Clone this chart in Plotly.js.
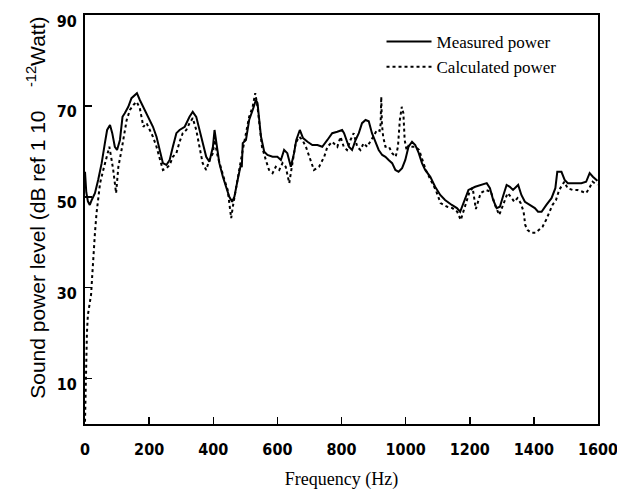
<!DOCTYPE html>
<html>
<head>
<meta charset="utf-8">
<script src="https://cdn.plot.ly/plotly-3.0.1.min.js"></script>
<style>html,body{margin:0;padding:0;background:#fff;}#chart{width:617px;height:493px;}</style>
</head>
<body>
<div id="chart"></div>
<script>
// Measured power (solid)
const measuredHz = [0, 4, 9, 15, 21, 31, 41, 52, 62, 69, 78, 85, 93, 100, 109, 117, 124, 135, 145, 155, 162, 171, 181, 192, 202, 212, 223, 233, 243, 254, 264, 274, 285, 295, 311, 326, 336, 347, 357, 367, 378, 388, 399, 404, 409, 419, 430, 440, 450, 459, 466, 476, 487, 489, 492, 502, 512, 523, 533, 538, 544, 549, 559, 569, 585, 600, 611, 621, 631, 642, 652, 659, 670, 680, 694, 709, 725, 740, 756, 771, 787, 802, 808, 823, 833, 844, 854, 864, 875, 885, 895, 906, 916, 927, 937, 947, 958, 968, 978, 989, 999, 1009, 1020, 1030, 1041, 1051, 1061, 1077, 1092, 1108, 1123, 1144, 1160, 1170, 1180, 1196, 1217, 1237, 1253, 1263, 1273, 1284, 1294, 1305, 1315, 1325, 1335, 1351, 1361, 1372, 1387, 1403, 1413, 1424, 1439, 1455, 1467, 1473, 1486, 1496, 1506, 1527, 1548, 1563, 1574, 1584, 1598];
const measuredDb = [55.5, 51, 49, 48.2, 49.3, 50.8, 53.7, 57.4, 61.8, 64.7, 65.8, 64, 61, 60.3, 62.5, 67.6, 68.4, 69.8, 71.7, 72.4, 72.8, 71.3, 69.8, 68.4, 66.9, 65.4, 63.2, 60.3, 57.4, 57, 58.1, 61, 64, 64.7, 65.4, 67.6, 68.7, 67.6, 64.7, 61.8, 58.8, 57.7, 61, 64.7, 62.5, 57.4, 54.4, 52.2, 50, 48.9, 50, 53.7, 57.4, 56.5, 61.8, 62.5, 66.9, 69.1, 71.3, 70.6, 66.9, 63.2, 59.9, 59.2, 58.8, 58.8, 58.1, 60.3, 59.6, 56.6, 59.6, 62.5, 64.7, 62.9, 62.1, 61.4, 61.4, 61, 62.5, 64, 64.3, 64.7, 64, 61, 60.3, 62.5, 64, 66.2, 66.9, 66.6, 64, 61.8, 60.3, 59.2, 58.8, 58.1, 57.4, 55.9, 55.5, 56.3, 58.1, 61, 62.1, 61.4, 59.6, 57.4, 55.9, 54.4, 52.2, 50.4, 49.3, 48.2, 47.5, 46.7, 48.6, 51.5, 52.2, 52.6, 53, 51.9, 49.3, 47.5, 47.8, 50.4, 52.6, 52.2, 51.5, 52.6, 50.4, 48.9, 48.2, 47.5, 46.7, 46.7, 48.2, 49.7, 51.9, 55.5, 55.5, 53.7, 53, 53, 53, 53.3, 55.2, 54.4, 53.5];

// Calculated power (dotted)
const calculatedHz = [0, 2, 4, 6, 9, 14, 19, 22, 26, 31, 36, 41, 47, 57, 67, 76, 83, 88, 97, 104, 114, 125, 130, 140, 151, 161, 171, 182, 192, 202, 212, 223, 233, 243, 254, 264, 274, 285, 295, 305, 316, 326, 336, 347, 357, 367, 378, 388, 399, 404, 414, 425, 435, 445, 456, 461, 471, 481, 492, 502, 512, 523, 531, 538, 544, 552, 564, 574, 585, 595, 606, 616, 626, 637, 647, 657, 668, 678, 689, 699, 714, 730, 746, 756, 771, 787, 797, 807, 817, 828, 838, 849, 859, 869, 880, 896, 911, 919, 922, 924, 926, 930, 937, 948, 958, 969, 976, 982, 988, 993, 997, 1003, 1010, 1021, 1031, 1042, 1052, 1063, 1078, 1094, 1109, 1130, 1146, 1161, 1172, 1182, 1198, 1209, 1219, 1234, 1250, 1266, 1281, 1292, 1307, 1318, 1328, 1339, 1349, 1359, 1368, 1373, 1380, 1391, 1406, 1417, 1427, 1438, 1448, 1458, 1469, 1479, 1495, 1505, 1521, 1536, 1552, 1563, 1573, 1583, 1598];
const calculatedDb = [0.5, 8, 15, 20, 24, 26, 28.5, 32, 37, 42, 46.4, 50, 53, 55.9, 58.8, 61, 58.1, 55.9, 50.8, 56.6, 60.3, 64.7, 66.9, 69.1, 70.2, 70.9, 69.5, 65.4, 66.2, 64.7, 63.2, 61, 58.4, 55.9, 56.3, 57, 58.8, 59.6, 62.1, 64, 64.7, 66.2, 67.3, 64.7, 61, 57.4, 55.9, 58.1, 59.6, 62.5, 58.8, 55.9, 53.7, 51.5, 45.3, 47.8, 51.5, 55.9, 60.3, 64, 67.6, 69.8, 72.8, 69.8, 65.4, 61, 58.1, 55.9, 55.2, 56.6, 55.9, 57.4, 56.6, 53, 57.4, 61.8, 63.2, 62.5, 61, 58.8, 55.9, 56.6, 58.8, 61, 62.1, 61, 63.2, 61, 60.3, 62.5, 64, 61, 60.3, 61.8, 61, 62.9, 64.7, 64.5, 66, 72, 66, 63.2, 61, 61, 59.6, 58.8, 61, 66.9, 69.8, 68.4, 62.5, 60.3, 61.4, 61, 61, 60.3, 58.1, 55.9, 53.7, 51.5, 48.6, 47.8, 47.5, 46.7, 44.9, 47.1, 50.8, 52, 47.3, 50.8, 51.5, 51.1, 47.8, 46, 48.6, 50.8, 50, 48.9, 49.7, 48.6, 46.7, 43.8, 42.7, 42.1, 42.1, 42.8, 43.4, 44.9, 46.7, 48.2, 49.3, 51.5, 53.3, 51.9, 51.5, 51.5, 51.1, 50.8, 51.9, 53.3, 52.6];

const xTicks = [0, 200, 400, 600, 800, 1000, 1200, 1400, 1600];
const yTicks = [10, 30, 50, 70, 90];
const yTitle = 'Sound power level (dB ref 1 10    <sup>-12</sup>Watt)';

const traces = [
  {x: measuredHz, y: measuredDb, type: 'scatter', mode: 'lines', name: 'Measured power',
   line: {color: '#000', width: 2, dash: 'solid'}},
  {x: calculatedHz, y: calculatedDb, type: 'scatter', mode: 'lines', name: 'Calculated power',
   line: {color: '#000', width: 2, dash: 'dot'}}
];

const tickFont = {family: '"Liberation Sans Narrow", "DejaVu Sans Condensed", "Liberation Sans", Arial, sans-serif', size: 16, color: '#000', weight: 'bold'};

const layout = {
  width: 617, height: 493,
  margin: {l: 85, r: 19, t: 15, b: 69},
  paper_bgcolor: '#fff', plot_bgcolor: '#fff',
  showlegend: true,
  legend: {x: 0.578, xanchor: 'left', y: 0.978, yanchor: 'top', bgcolor: 'rgba(0,0,0,0)', borderwidth: 0,
           font: {family: '"Liberation Serif", "Times New Roman", serif', size: 17, color: '#000'},
           itemwidth: 45, tracegroupgap: 0},
  xaxis: {range: [0, 1600], tickvals: xTicks, ticktext: xTicks.map(String), ticks: 'inside', ticklen: 7, tickwidth: 1.5,
          tickcolor: '#000', showline: true, mirror: true, linewidth: 2, linecolor: '#000', showgrid: false, zeroline: false,
          tickfont: tickFont, ticklabelstandoff: 10, ticklabeloverflow: 'allow',
          title: {text: 'Frequency (Hz)', font: {family: '"Liberation Serif", "Times New Roman", serif', size: 18, color: '#000'}, standoff: 14}},
  yaxis: {range: [0, 90], tickvals: yTicks, ticktext: yTicks.map(String), ticks: 'inside', ticklen: 7, tickwidth: 1.5,
          tickcolor: '#000', showline: true, mirror: true, linewidth: 2, linecolor: '#000', showgrid: false, zeroline: false,
          tickfont: tickFont, ticklabelstandoff: 3, ticklabelshift: 6, ticklabeloverflow: 'allow'},
  annotations: [{
    text: yTitle, textangle: -90, showarrow: false,
    xref: 'paper', yref: 'paper', x: -0.096, y: 0.528, xanchor: 'center', yanchor: 'middle',
    font: {family: '"Liberation Sans", Arial, sans-serif', size: 21, color: '#000'}
  }]
};

Plotly.newPlot('chart', traces, layout, {displayModeBar: false, staticPlot: true});
</script>
</body>
</html>
